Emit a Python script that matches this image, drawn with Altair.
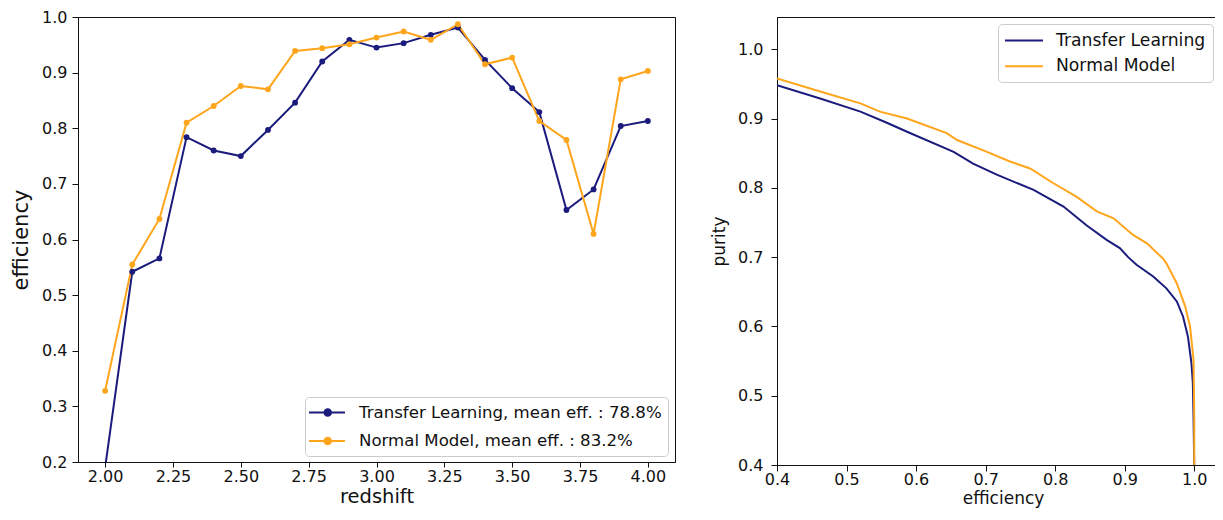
import altair as alt
import pandas as pd

# ---------------- data: left panel (efficiency vs redshift) ----------------
redshift = [2.0, 2.1, 2.2, 2.3, 2.4, 2.5, 2.6, 2.7, 2.8, 2.9, 3.0,
            3.1, 3.2, 3.3, 3.4, 3.5, 3.6, 3.7, 3.8, 3.9, 4.0]
tl_eff = [0.190, 0.542, 0.566, 0.784, 0.760, 0.750, 0.797, 0.846, 0.920, 0.959, 0.945,
          0.953, 0.968, 0.981, 0.923, 0.872, 0.829, 0.653, 0.690, 0.804, 0.813]
nm_eff = [0.328, 0.555, 0.637, 0.810, 0.840, 0.876, 0.870, 0.939, 0.944, 0.951, 0.963,
          0.974, 0.959, 0.987, 0.915, 0.927, 0.813, 0.779, 0.610, 0.888, 0.903]
tl_label = "Transfer Learning, mean eff. : 78.8%"
nm_label = "Normal Model, mean eff. : 83.2%"
left_xticks = [2.0, 2.25, 2.5, 2.75, 3.0, 3.25, 3.5, 3.75, 4.0]
left_yticks = [0.2, 0.3, 0.4, 0.5, 0.6, 0.7, 0.8, 0.9, 1.0]

# ---------------- data: right panel (purity vs efficiency) ----------------
roc_tl_eff = [0.400, 0.462, 0.520, 0.558, 0.587, 0.654, 0.682, 0.716, 0.769, 0.812, 0.845, 0.874,
              0.893, 0.905, 0.917, 0.941, 0.960, 0.975, 0.984, 0.991, 0.996, 0.998, 0.999, 1.000]
roc_tl_pur = [0.948, 0.929, 0.910, 0.894, 0.881, 0.852, 0.835, 0.819, 0.797, 0.773, 0.746, 0.725,
              0.713, 0.700, 0.689, 0.672, 0.655, 0.636, 0.614, 0.585, 0.547, 0.518, 0.470, 0.400]
roc_nm_eff = [0.400, 0.462, 0.520, 0.548, 0.587, 0.644, 0.659, 0.702, 0.735, 0.764, 0.797, 0.831,
              0.860, 0.884, 0.912, 0.932, 0.955, 0.960, 0.975, 0.987, 0.994, 0.999, 1.000, 1.000]
roc_nm_pur = [0.958, 0.939, 0.922, 0.910, 0.900, 0.879, 0.869, 0.852, 0.838, 0.828, 0.807, 0.787,
              0.766, 0.756, 0.732, 0.720, 0.698, 0.691, 0.662, 0.629, 0.600, 0.552, 0.470, 0.400]
roc_tl_label = "Transfer Learning"
roc_nm_label = "Normal Model"
right_xticks = [0.4, 0.5, 0.6, 0.7, 0.8, 0.9, 1.0]
right_yticks = [0.4, 0.5, 0.6, 0.7, 0.8, 0.9, 1.0]
right_xdomain = [0.4, 1.05]
right_ydomain = [0.4, 1.0466]

NAVY = "#1b1b7d"
ORANGE = "#ffa51c"
FONT = "DejaVu Sans"
INK = "#111111"

left_df = pd.DataFrame({
    "redshift": redshift + redshift,
    "eff": tl_eff + nm_eff,
    "model": [tl_label] * len(redshift) + [nm_label] * len(redshift),
})
right_df = pd.DataFrame({
    "eff": roc_tl_eff + roc_nm_eff,
    "pur": roc_tl_pur + roc_nm_pur,
    "model": [roc_tl_label] * len(roc_tl_eff) + [roc_nm_label] * len(roc_nm_eff),
    "order": list(range(len(roc_tl_eff))) + list(range(len(roc_nm_eff))),
})

# legend glyphs: line (+ marker) drawn wider than the nominal symbol box
LINE_PT_SYM = ("M-1.35,0H2.88"
               "M0.46,0A0.39,0.39 0 1,1 1.24,0A0.39,0.39 0 1,1 0.46,0Z")
LINE_SYM = "M-1.12,0H3.35"

axis_common = dict(grid=False, domainColor=INK, tickColor=INK, labelColor=INK, titleColor=INK,
                   labelFont=FONT, titleFont=FONT, titleFontWeight="normal", labelFlush=False)

# ---------------- left panel ----------------
left = alt.Chart(left_df).mark_line(
    strokeWidth=2, clip=True,
    point=alt.OverlayMarkDef(filled=True, size=34, clip=True),
).encode(
    x=alt.X("redshift:Q",
            scale=alt.Scale(domain=[1.9, 4.1], nice=False, zero=False),
            axis=alt.Axis(values=left_xticks, format=".2f", title="redshift",
                          labelFontSize=16, titleFontSize=19.5, tickSize=5, labelPadding=1,
                          titlePadding=3.5, **axis_common)),
    y=alt.Y("eff:Q",
            scale=alt.Scale(domain=[0.2, 1.0], nice=False, zero=False),
            axis=alt.Axis(values=left_yticks, format=".1f", title="efficiency",
                          labelFontSize=16, titleFontSize=21, tickSize=6, labelPadding=5,
                          titlePadding=10, **axis_common)),
    color=alt.Color("model:N",
                    scale=alt.Scale(domain=[tl_label, nm_label], range=[NAVY, ORANGE]),
                    legend=alt.Legend(title=None, orient="none", legendX=227, legendY=380,
                                      symbolType=LINE_PT_SYM, symbolSize=289, symbolStrokeWidth=2,
                                      labelFontSize=16.6, labelFont=FONT, labelColor=INK,
                                      labelLimit=500, labelOffset=29, padding=6, rowPadding=9.5,
                                      strokeColor="#cccccc", fillColor="rgba(255,255,255,0.85)",
                                      cornerRadius=4)),
).properties(width=597, height=445)

# ---------------- right panel ----------------
right = alt.Chart(right_df).mark_line(strokeWidth=2, clip=True).encode(
    x=alt.X("eff:Q", scale=alt.Scale(domain=right_xdomain, nice=False, zero=False),
            axis=alt.Axis(values=right_xticks, format=".1f", title="efficiency",
                          labelFontSize=16, titleFontSize=17, tickSize=6, labelPadding=0,
                          titlePadding=3, **axis_common)),
    y=alt.Y("pur:Q", scale=alt.Scale(domain=right_ydomain, nice=False, zero=False),
            axis=alt.Axis(values=right_yticks, format=".1f", title="purity",
                          labelFontSize=16, titleFontSize=17, tickSize=6, labelPadding=8,
                          titlePadding=9, **axis_common)),
    color=alt.Color("model:N",
                    scale=alt.Scale(domain=[roc_tl_label, roc_nm_label], range=[NAVY, ORANGE]),
                    legend=alt.Legend(title=None, orient="none", legendX=221, legendY=7,
                                      symbolType=LINE_SYM, symbolSize=289, symbolStrokeWidth=2,
                                      labelFontSize=17.2, labelFont=FONT, labelColor=INK,
                                      labelLimit=500, labelOffset=32, padding=7, rowPadding=7.8,
                                      strokeColor="#cccccc", fillColor="rgba(255,255,255,0.85)",
                                      cornerRadius=4)),
    order="order:Q",
).properties(width=452, height=448)

# Fixed canvas 1207 x 500 (fits the page): the right panel runs past the canvas edge, as in the original
chart = alt.hconcat(left, right, spacing=102, bounds="flush").resolve_scale(
    color="independent"
).properties(
    autosize=alt.AutoSizeParams(type="none"),
    padding={"left": 70, "top": 9, "right": 1137, "bottom": 491},
).configure(font=FONT).configure_view(stroke=INK, strokeWidth=1)

chart.save("out.html", embed_options={"renderer": "svg", "actions": False})
